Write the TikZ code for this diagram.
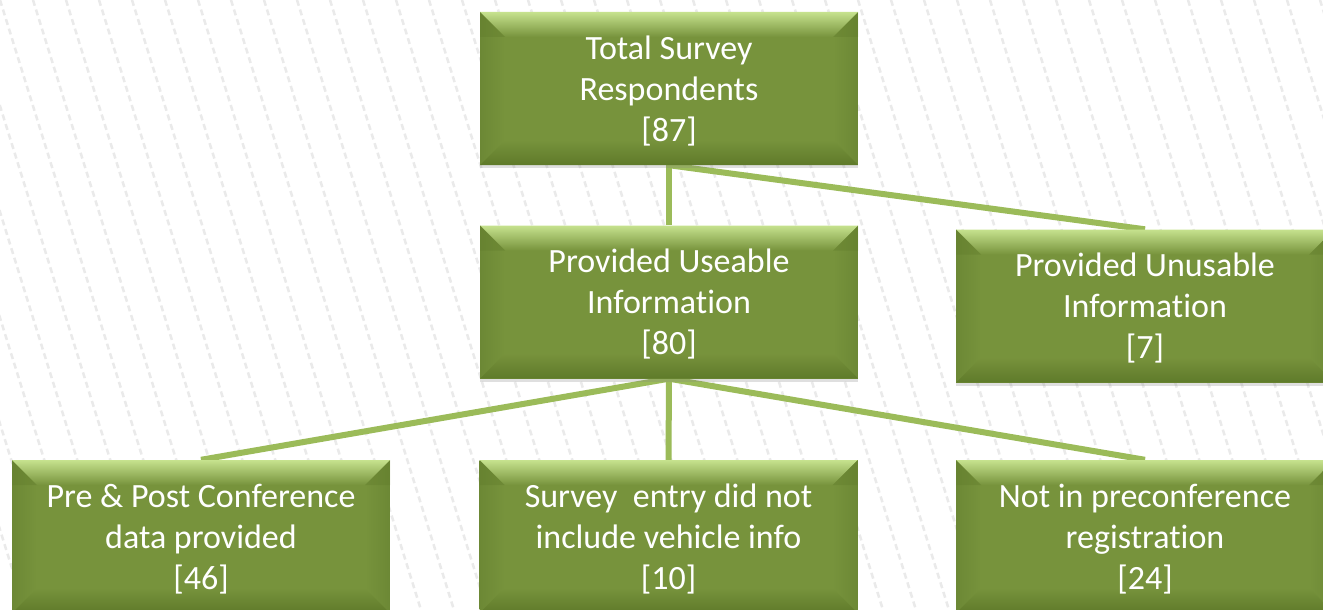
\documentclass[tikz,border=0pt]{standalone}
\usepackage{fontspec}
\setmainfont[RawFeature=-liga]{Carlito}
\usetikzlibrary{shadows}
\definecolor{boxg}{HTML}{77933C}
\definecolor{boxlight}{HTML}{C6E28E}
\definecolor{boxdark}{HTML}{5F7A2A}
\definecolor{boxmid}{HTML}{6C8835}
\definecolor{linkg}{HTML}{9BBB59}
\definecolor{hatch}{HTML}{EAEAEA}
\pgfdeclarelayer{bg}
\pgfsetlayers{bg,main}
\tikzset{
  bev/.style={rectangle, minimum width=378pt, minimum height=153pt, inner sep=0pt,
    fill=boxg, text=white, align=center, font=\fontsize{34}{41}\selectfont, text depth=0pt,
    drop shadow={opacity=0.25, shadow xshift=0pt, shadow yshift=-3pt},
    path picture={
      \path (path picture bounding box.north west) coordinate (pNW)
            (path picture bounding box.north east) coordinate (pNE)
            (path picture bounding box.south west) coordinate (pSW)
            (path picture bounding box.south east) coordinate (pSE);
      \shade[left color=boxmid, right color=boxg] (pNW) -- ([shift={(25pt,-25pt)}]pNW) -- ([shift={(25pt,25pt)}]pSW) -- (pSW) -- cycle;
      \shade[left color=boxg, right color=boxmid] (pNE) -- ([shift={(-25pt,-25pt)}]pNE) -- ([shift={(-25pt,25pt)}]pSE) -- (pSE) -- cycle;
      \shade[top color=boxg, bottom color=boxdark] (pSW) -- ([shift={(25pt,25pt)}]pSW) -- ([shift={(-25pt,25pt)}]pSE) -- (pSE) -- cycle;
      \shade[top color=boxlight, bottom color=boxg] (pNW) -- (pNE) -- ([shift={(-25pt,-25pt)}]pNE) -- ([shift={(25pt,-25pt)}]pNW) -- cycle;
      \fill[boxdark, opacity=0.35] (pNW) -- ([shift={(25pt,-25pt)}]pNW) -- ([shift={(0pt,-25pt)}]pNW) -- cycle;
      \fill[boxdark, opacity=0.35] (pNE) -- ([shift={(-25pt,-25pt)}]pNE) -- ([shift={(0pt,-25pt)}]pNE) -- cycle;
    }},
  link/.style={draw=linkg, line width=6pt}
}
\begin{document}
\begin{tikzpicture}[x=1pt, y=-1pt]
\useasboundingbox (0,0) rectangle (1323,610);
\begin{pgfonlayer}{bg}
  \fill[white] (0,0) rectangle (1323,610);
  \begin{scope}
    \clip (0,0) rectangle (1323,610);
    \foreach \k in {-8,...,42}
      \draw[hatch, line width=2.5pt, dash pattern=on 6pt off 4pt] ({\k*33},0) -- ({\k*33+190},610);
  \end{scope}
\end{pgfonlayer}

\node[bev] (top) at (669,88.5) {Total Survey\\Respondents\\{[87]}};
\node[bev] (mid) at (669,302) {Provided Useable\\Information\\{[80]}};
\node[bev] (unus) at (1145,306) {Provided Unusable\\Information\\{[7]}};
\node[bev] (prepost) at (201,536.5) {Pre \& Post Conference\\data provided\\{[46]}};
\node[bev] (survey) at (668.5,536.5) {Survey\ \ entry did not\\include vehicle info\\{[10]}};
\node[bev] (notin) at (1145,536.5) {Not in preconference\\registration\\{[24]}};

\begin{pgfonlayer}{bg}
  \draw[link] (top.south) -- (mid.north);
  \draw[link] (top.south) -- (unus.north);
  \draw[link] (mid.south) -- (prepost.north);
  \draw[link] (mid.south) -- (survey.north);
  \draw[link] (mid.south) -- (notin.north);
\end{pgfonlayer}
\end{tikzpicture}
\end{document}
